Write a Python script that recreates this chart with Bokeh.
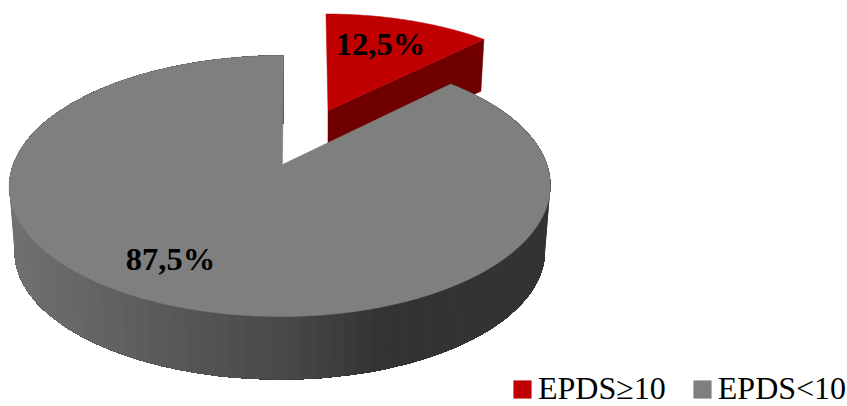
import math
from bokeh.plotting import figure
from bokeh.models import Legend, LegendItem, Range1d
from bokeh.core.properties import value
from bokeh.embed import file_html
from bokeh.resources import INLINE

# ---- data ----
categories = ["EPDS≥10", "EPDS<10"]
shares = [12.5, 87.5]
labels = ["12,5%", "87,5%"]

# ---- style / projection ----
W, H = 847, 406
RED_TOP, RED_WALL = "#C00000", "#700000"
GREY_TOP = "#7F7F7F"
FONT = value("Liberation Serif")
APEX = (282.0, 164.0)
K, B, A_LEFT, A_RIGHT, TILT = 0.1648, 127.0, 269.3, 264.4, 1.2
DEPTH, BOTTOM_SCALE = 66.0, 0.98
RED_APEX = (327.5, 110.0)
RED_SX, RED_SY, RED_DEPTH, RED_TILT = 0.94, 0.885, 52.0, -2.5
SIDE_STOPS = [(0, 0x72), (280, 0x4a), (390, 0x33), (847, 0x33)]


def offset(theta, tilt=TILT):
    u, v = math.sin(theta), math.cos(theta)
    w = 1 + K * v
    a = A_LEFT if u < 0 else A_RIGHT
    return (a * u + tilt * v) / w, -B * v / w


def arc(start, stop, n):
    return [start + (stop - start) * i / n for i in range(n + 1)]


def shade(x, stops):
    for (x0, g0), (x1, g1) in zip(stops, stops[1:]):
        if x <= x1:
            g = round(g0 + (g1 - g0) * (x - x0) / (x1 - x0))
            return f"#{g:02x}{g:02x}{g:02x}"
    g = stops[-1][1]
    return f"#{g:02x}{g:02x}{g:02x}"


red_stop = math.radians(shares[0] / sum(shares) * 360)
full = 2 * math.pi

p = figure(
    width=W, height=H, output_backend="svg", toolbar_location=None,
    x_range=Range1d(0, W), y_range=Range1d(H, 0),
    min_border=0, outline_line_color=None,
    styles={"position": "absolute", "left": "0", "top": "0"},
)
p.axis.visible = False
p.grid.visible = False
p.background_fill_color = "white"
p.border_fill_color = "white"

# exploded red slice: wall first, then its top
ox, oy = offset(red_stop, RED_TILT)
corner = (RED_APEX[0] + RED_SX * ox, RED_APEX[1] + RED_SY * oy)
wall_x = [RED_APEX[0], corner[0], corner[0] - 3, RED_APEX[0]]
wall_y = [RED_APEX[1], corner[1], corner[1] + RED_DEPTH, RED_APEX[1] + RED_DEPTH]
p.patch(wall_x, wall_y, fill_color=RED_WALL, line_color=RED_WALL, line_width=0.5)

rim = [offset(t, RED_TILT) for t in arc(0, red_stop, 60)]
red_xs = [RED_APEX[0]] + [RED_APEX[0] + RED_SX * a for a, _ in rim]
red_ys = [RED_APEX[1]] + [RED_APEX[1] + RED_SY * b for _, b in rim]
red_r = p.patches([red_xs], [red_ys], fill_color=[RED_TOP], line_color=[RED_TOP], line_width=0.5)

# grey outer wall: painter's bands, each covers everything still to its left
angles = arc(red_stop, full, 240)
wall_pts = [offset(t) for t in angles]
lower_x = [APEX[0] + BOTTOM_SCALE * a for a, _ in wall_pts]
lower_y = [APEX[1] + DEPTH + BOTTOM_SCALE * b for _, b in wall_pts]
upper_x = [APEX[0] + a for a, _ in wall_pts]
upper_y = [APEX[1] + b for _, b in wall_pts]
bxs, bys, bcs = [], [], []
for i in range(0, len(angles) - 1, 2):
    bxs.append(upper_x[i:] + lower_x[i:][::-1])
    bys.append(upper_y[i:] + lower_y[i:][::-1])
    bcs.append(shade(upper_x[i], SIDE_STOPS))
p.patches(bxs, bys, fill_color=bcs, line_color=None)

# grey top
top_xs = [APEX[0]] + upper_x
top_ys = [APEX[1]] + upper_y
grey_r = p.patches([top_xs], [top_ys], fill_color=[GREY_TOP], line_color=[GREY_TOP], line_width=0.5)

# data labels
p.text([380, 170], [43, 258], text=labels, text_font=FONT, text_font_style="bold",
       text_font_size="32.5px", text_align="center", text_baseline="middle", text_color="#000000")

legend = Legend(
    items=[LegendItem(label=categories[0], renderers=[red_r], index=0),
           LegendItem(label=categories[1], renderers=[grey_r], index=0)],
    orientation="horizontal", location=(511, -1), margin=0, padding=0,
    border_line_color=None, background_fill_alpha=0,
    glyph_width=22, glyph_height=22, label_standoff=5, spacing=25,
    label_text_font="Liberation Serif", label_text_font_size="32px",
    label_text_color="#000000",
)
p.add_layout(legend, "center")

open("out.html", "w").write(file_html(p, INLINE))
